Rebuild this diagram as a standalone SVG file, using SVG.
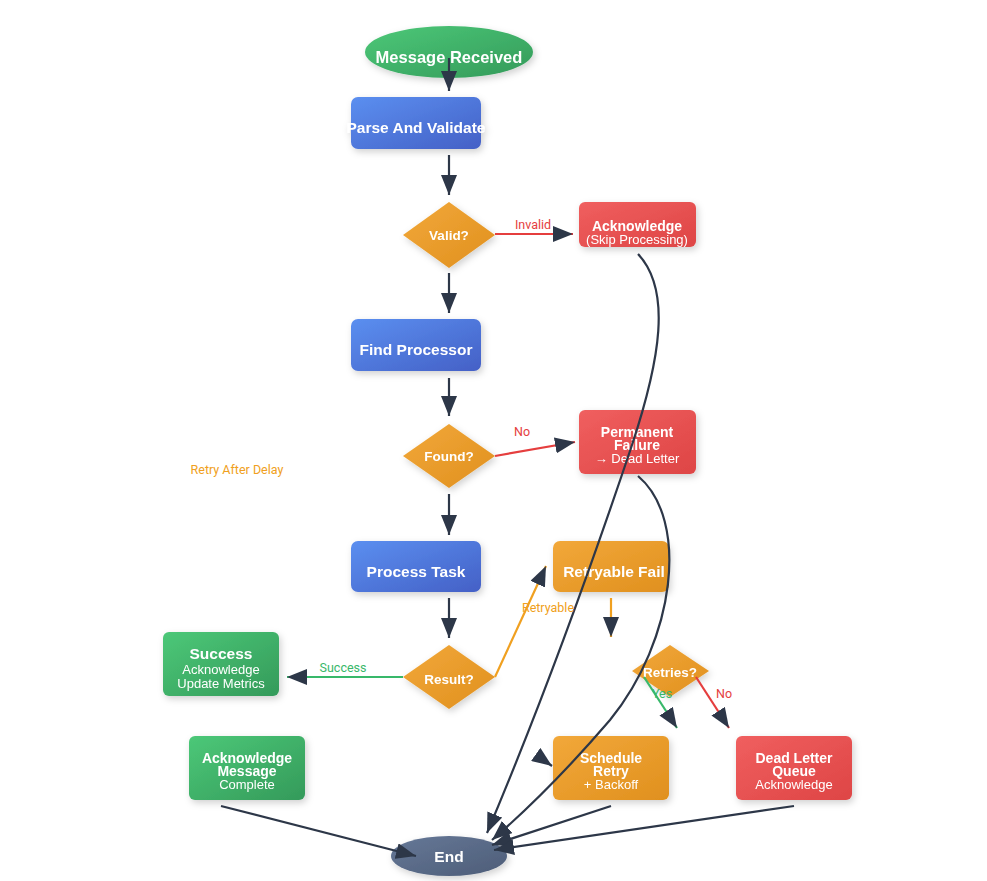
<svg xmlns="http://www.w3.org/2000/svg" width="987" height="881" viewBox="0 0 987 881">
<defs>
<linearGradient id="gBlue" x1="0" y1="0" x2="1" y2="1"><stop offset="0" stop-color="#5b8ff0"/><stop offset="1" stop-color="#4460c6"/></linearGradient>
<linearGradient id="gGreen" x1="0" y1="0" x2="1" y2="1"><stop offset="0" stop-color="#4cc878"/><stop offset="1" stop-color="#349a5a"/></linearGradient>
<linearGradient id="gOrange" x1="0" y1="0" x2="1" y2="1"><stop offset="0" stop-color="#f2a83a"/><stop offset="1" stop-color="#e0901e"/></linearGradient>
<linearGradient id="gRed" x1="0" y1="0" x2="1" y2="1"><stop offset="0" stop-color="#f05f5f"/><stop offset="1" stop-color="#de4545"/></linearGradient>
<linearGradient id="gGray" x1="0" y1="0" x2="1" y2="1"><stop offset="0" stop-color="#667897"/><stop offset="1" stop-color="#4d5d78"/></linearGradient>
<filter id="sh" x="-20%" y="-20%" width="150%" height="160%"><feDropShadow dx="2" dy="3" stdDeviation="3.5" flood-color="#000" flood-opacity="0.18"/></filter>
<marker id="ah" markerUnits="userSpaceOnUse" markerWidth="20" markerHeight="16" refX="20" refY="8" orient="auto"><path d="M0,0 L20,8 L0,16 z" fill="#2d3748"/></marker>
</defs>
<style>
.n{filter:url(#sh)}
.t{font-family:"Liberation Sans",Arial,sans-serif;fill:#fff;text-anchor:middle}
.b16{font-size:16.5px;font-weight:bold}
.b15{font-size:15.5px;font-weight:bold}
.b14{font-size:14px;font-weight:bold}
.b13{font-size:13.5px;font-weight:bold}
.r13{font-size:13px}
.e{fill:none;stroke-width:2.2;marker-end:url(#ah)}
.dk{stroke:#2d3748}
.rd{stroke:#e53e3e}
.gr{stroke:#38b86a}
.or{stroke:#f0a020}
.lb{font-family:Roboto,"Liberation Sans",sans-serif;font-size:12.5px;text-anchor:middle}
</style>
<rect width="987" height="881" fill="#fff"/>
<g id="start" class="n"><ellipse cx="449" cy="52" rx="84" ry="26" fill="url(#gGreen)"/><text class="t b16" x="449" y="63">Message Received</text></g>
<g id="parse" class="n"><rect x="351" y="97" width="130" height="52" rx="7" fill="url(#gBlue)"/><text class="t b15" x="416" y="133">Parse And Validate</text></g>
<g id="valid" class="n"><polygon points="449,202 495,235 449,268 403,235" fill="url(#gOrange)"/><text class="t b13" x="449" y="240">Valid?</text></g>
<g id="ackSkip" class="n"><rect x="579" y="202" width="117" height="45" rx="6" fill="url(#gRed)"/><text class="t b14" x="637" y="231">Acknowledge</text><text class="t r13" x="637" y="244">(Skip Processing)</text></g>
<g id="find" class="n"><rect x="351" y="319" width="130" height="52" rx="7" fill="url(#gBlue)"/><text class="t b15" x="416" y="355">Find Processor</text></g>
<g id="found" class="n"><polygon points="449,424 495,456 449,488 403,456" fill="url(#gOrange)"/><text class="t b13" x="449" y="461">Found?</text></g>
<g id="permFail" class="n"><rect x="579" y="410" width="117" height="64" rx="6" fill="url(#gRed)"/><text class="t b14" x="637" y="437">Permanent</text><text class="t b14" x="637" y="450">Failure</text><text class="t r13" x="637" y="463">→ Dead Letter</text></g>
<g id="process" class="n"><rect x="351" y="541" width="130" height="51" rx="7" fill="url(#gBlue)"/><text class="t b15" x="416" y="577">Process Task</text></g>
<g id="retryFail" class="n"><rect x="553" y="541" width="116" height="51" rx="7" fill="url(#gOrange)"/><text class="t b15" x="614" y="577">Retryable Fail</text></g>
<g id="result" class="n"><polygon points="449,645 495,677 449,709 403,677" fill="url(#gOrange)"/><text class="t b13" x="449" y="684">Result?</text></g>
<g id="success" class="n"><rect x="163" y="632" width="116" height="64" rx="6" fill="url(#gGreen)"/><text class="t b15" x="221" y="659">Success</text><text class="t r13" x="221" y="674">Acknowledge</text><text class="t r13" x="221" y="688">Update Metrics</text></g>
<g id="retries" class="n"><polygon points="670,645 709,671 670,697 632,671" fill="url(#gOrange)"/><text class="t b13" x="670" y="677">Retries?</text></g>
<g id="ackMsg" class="n"><rect x="189" y="736" width="116" height="64" rx="6" fill="url(#gGreen)"/><text class="t b14" x="247" y="763">Acknowledge</text><text class="t b14" x="247" y="776">Message</text><text class="t r13" x="247" y="789">Complete</text></g>
<g id="schedule" class="n"><rect x="553" y="736" width="116" height="64" rx="6" fill="url(#gOrange)"/><text class="t b14" x="611" y="763">Schedule</text><text class="t b14" x="611" y="776">Retry</text><text class="t r13" x="611" y="789">+ Backoff</text></g>
<g id="dlq" class="n"><rect x="736" y="736" width="116" height="64" rx="6" fill="url(#gRed)"/><text class="t b14" x="794" y="763">Dead Letter</text><text class="t b14" x="794" y="776">Queue</text><text class="t r13" x="794" y="789">Acknowledge</text></g>
<g id="end" class="n"><ellipse cx="449" cy="856" rx="58" ry="20" fill="url(#gGray)"/><text class="t b15" x="449" y="862">End</text></g>
<g id="connectors">
<path class="e dk" d="M449,58 L449,91"/>
<path class="e dk" d="M449,155 L449,195"/>
<path class="e rd" d="M495,234 L573,234"/>
<path class="e dk" d="M449,273 L449,313"/>
<path class="e dk" d="M449,378 L449,416"/>
<path class="e rd" d="M495,456 L575,442"/>
<path class="e dk" d="M449,494 L449,535"/>
<path class="e dk" d="M449,598 L449,638"/>
<path class="e gr" d="M403,677 L287,677"/>
<path class="e or" d="M495,677 L546,566"/>
<path class="e or" d="M611,598 L611,637"/>
<path class="e gr" d="M644,677 L677,728"/>
<path class="e rd" d="M696,677 L729,728"/>
<path class="e dk" d="M538,756 L552,766"/>
<path class="e dk" d="M638,254 C672,290 660,360 632,445 Q560,660 487,833"/>
<path class="e dk" d="M638,476 C690,520 675,640 610,720 Q550,790 492,840"/>
<path class="e dk" d="M221,806 L416,856"/>
<path class="e dk" d="M611,806 L492,845"/>
<path class="e dk" d="M794,806 L494,850"/>
<text class="lb" x="533" y="229" fill="#e53e3e">Invalid</text>
<text class="lb" x="522" y="436" fill="#e53e3e">No</text>
<text class="lb" x="343" y="672" fill="#38b86a">Success</text>
<text class="lb" x="548" y="612" fill="#f0a020">Retryable</text>
<text class="lb" x="662" y="698" fill="#38b86a">Yes</text>
<text class="lb" x="724" y="698" fill="#e53e3e">No</text>
<text class="lb" x="237" y="474" fill="#f0a020">Retry After Delay</text>
</g>
</svg>
